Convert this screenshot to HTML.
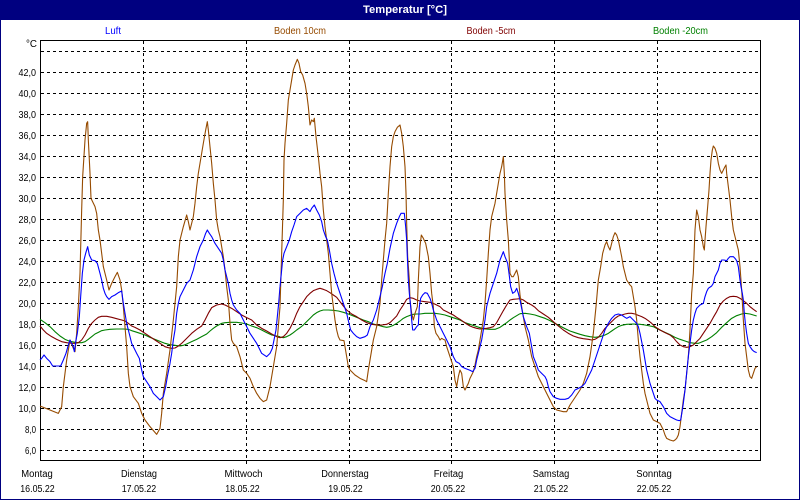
<!DOCTYPE html>
<html><head><meta charset="utf-8"><style>
html,body{margin:0;padding:0;background:#fff;}
svg{display:block;}
text{font-family:"Liberation Sans",Arial,sans-serif;}
</style></head><body>
<svg width="800" height="500" viewBox="0 0 800 500" xmlns="http://www.w3.org/2000/svg">
<rect x="0" y="0" width="800" height="500" fill="#fff"/>
<rect x="0" y="0" width="800" height="20" fill="#000080"/>
<rect x="0.5" y="0.5" width="799" height="499" fill="none" stroke="#000080" stroke-width="1" shape-rendering="crispEdges"/>
<text x="363" y="13" font-size="11" font-weight="bold" fill="#fff" textLength="84" lengthAdjust="spacingAndGlyphs">Temperatur [°C]</text>

<!-- legend -->
<text x="105" y="34" font-size="10" fill="#0000ff" textLength="16" lengthAdjust="spacingAndGlyphs">Luft</text>
<text x="274" y="34" font-size="10" fill="#964B00" textLength="52" lengthAdjust="spacingAndGlyphs">Boden 10cm</text>
<text x="466.5" y="34" font-size="10" fill="#800000" textLength="49" lengthAdjust="spacingAndGlyphs">Boden -5cm</text>
<text x="653" y="34" font-size="10" fill="#008000" textLength="55" lengthAdjust="spacingAndGlyphs">Boden -20cm</text>
<text x="26" y="47" font-size="10" fill="#000" textLength="11" lengthAdjust="spacingAndGlyphs">°C</text>

<!-- grid -->
<g stroke="#000" stroke-width="1" stroke-dasharray="3,3" shape-rendering="crispEdges" fill="none">
<path d="M41 51.5H760M41 72.5H760M41 93.5H760M41 114.5H760M41 135.5H760M41 156.5H760M41 177.5H760M41 198.5H760M41 219.5H760M41 240.5H760M41 261.5H760M41 282.5H760M41 303.5H760M41 324.5H760M41 345.5H760M41 366.5H760M41 387.5H760M41 408.5H760M41 429.5H760M41 450.5H760"/>
<path d="M143.5 41V464M246.5 41V464M349.5 41V464M451.5 41V464M554.5 41V464M657.5 41V464"/>
</g>
<rect x="40.5" y="40.5" width="720" height="420" fill="none" stroke="#000" stroke-width="1" shape-rendering="crispEdges"/>

<!-- y labels -->
<g font-size="10" fill="#000" text-anchor="end">
<text x="36" y="76" textLength="17.5" lengthAdjust="spacingAndGlyphs">42,0</text>
<text x="36" y="97" textLength="17.5" lengthAdjust="spacingAndGlyphs">40,0</text>
<text x="36" y="118" textLength="17.5" lengthAdjust="spacingAndGlyphs">38,0</text>
<text x="36" y="139" textLength="17.5" lengthAdjust="spacingAndGlyphs">36,0</text>
<text x="36" y="160" textLength="17.5" lengthAdjust="spacingAndGlyphs">34,0</text>
<text x="36" y="181" textLength="17.5" lengthAdjust="spacingAndGlyphs">32,0</text>
<text x="36" y="202" textLength="17.5" lengthAdjust="spacingAndGlyphs">30,0</text>
<text x="36" y="223" textLength="17.5" lengthAdjust="spacingAndGlyphs">28,0</text>
<text x="36" y="244" textLength="17.5" lengthAdjust="spacingAndGlyphs">26,0</text>
<text x="36" y="265" textLength="17.5" lengthAdjust="spacingAndGlyphs">24,0</text>
<text x="36" y="286" textLength="17.5" lengthAdjust="spacingAndGlyphs">22,0</text>
<text x="36" y="307" textLength="17.5" lengthAdjust="spacingAndGlyphs">20,0</text>
<text x="36" y="328" textLength="17.5" lengthAdjust="spacingAndGlyphs">18,0</text>
<text x="36" y="349" textLength="17.5" lengthAdjust="spacingAndGlyphs">16,0</text>
<text x="36" y="370" textLength="17.5" lengthAdjust="spacingAndGlyphs">14,0</text>
<text x="36" y="391" textLength="17.5" lengthAdjust="spacingAndGlyphs">12,0</text>
<text x="36" y="412" textLength="17.5" lengthAdjust="spacingAndGlyphs">10,0</text>
<text x="36" y="433" textLength="11" lengthAdjust="spacingAndGlyphs">8,0</text>
<text x="36" y="454" textLength="11" lengthAdjust="spacingAndGlyphs">6,0</text>
</g>

<!-- x labels -->
<g font-size="10" fill="#000" text-anchor="middle">
<text x="37" y="477" textLength="31.5" lengthAdjust="spacingAndGlyphs">Montag</text>
<text x="139" y="477" textLength="36" lengthAdjust="spacingAndGlyphs">Dienstag</text>
<text x="243.5" y="477" textLength="38" lengthAdjust="spacingAndGlyphs">Mittwoch</text>
<text x="345" y="477" textLength="47.5" lengthAdjust="spacingAndGlyphs">Donnerstag</text>
<text x="448.5" y="477" textLength="29.5" lengthAdjust="spacingAndGlyphs">Freitag</text>
<text x="551" y="477" textLength="36.5" lengthAdjust="spacingAndGlyphs">Samstag</text>
<text x="654" y="477" textLength="35.5" lengthAdjust="spacingAndGlyphs">Sonntag</text>
<text x="37.5" y="492" textLength="34.5" lengthAdjust="spacingAndGlyphs">16.05.22</text>
<text x="139" y="492" textLength="34.5" lengthAdjust="spacingAndGlyphs">17.05.22</text>
<text x="242.5" y="492" textLength="34.5" lengthAdjust="spacingAndGlyphs">18.05.22</text>
<text x="345.5" y="492" textLength="34.5" lengthAdjust="spacingAndGlyphs">19.05.22</text>
<text x="448" y="492" textLength="34.5" lengthAdjust="spacingAndGlyphs">20.05.22</text>
<text x="551" y="492" textLength="34.5" lengthAdjust="spacingAndGlyphs">21.05.22</text>
<text x="654" y="492" textLength="34.5" lengthAdjust="spacingAndGlyphs">22.05.22</text>
</g>

<!-- data: segment 1 (x 40-280) -->
<g transform="translate(40,40) scale(0.333333)" fill="none" stroke-width="1.1" stroke-linejoin="round">
<polyline vector-effect="non-scaling-stroke" stroke="#008000" points="0,838 15,848 30,860 45,875 60,888 75,898 90,904 105,907 115,908 125,908 135,905 145,898 155,890 165,882 175,877 185,872 195,870 210,868 230,867 250,867 265,868 275,872 285,875 300,880 315,885 330,892 345,898 360,904 375,910 390,914 405,916 420,918 430,916 440,912 455,905 470,898 485,890 500,882 510,873 520,865 530,858 545,850 555,848 570,847 590,847 605,849 620,852 635,858 650,863 665,870 680,878 695,885 710,888 720,890"/>
<polyline vector-effect="non-scaling-stroke" stroke="#800000" points="0,858 10,870 20,880 35,890 50,898 65,905 80,908 95,910 105,910 115,908 125,900 135,885 145,865 155,850 165,840 175,832 185,829 200,829 215,832 230,836 245,840 255,843 265,850 275,858 285,862 300,870 315,880 330,890 345,900 360,910 375,920 385,923 395,925 405,924 415,918 425,910 440,895 455,880 470,868 485,858 495,840 505,820 515,803 530,795 545,792 555,795 565,800 575,805 590,815 605,825 620,833 635,840 650,855 665,865 680,873 695,882 710,890 720,893"/>
<polyline vector-effect="non-scaling-stroke" stroke="#964B00" points="0,1098 55,1120 65,1100 70,1040 80,960 90,900 100,925 105,935 110,880 115,800 120,700 125,510 128,410 135,300 140,250 143,245 145,300 150,400 153,475 165,500 170,520 175,570 180,600 190,680 200,720 207,750 215,730 225,710 232,697 240,720 245,750 250,800 255,860 260,920 265,1000 270,1040 280,1070 295,1090 305,1120 315,1140 330,1160 350,1183 360,1165 365,1120 370,1060 380,1000 390,930 400,840 410,740 415,650 420,600 430,560 440,525 445,545 450,570 455,550 460,530 465,490 470,440 475,400 480,370 485,340 490,310 497,270 502,245 505,270 510,320 515,370 520,430 525,480 530,540 535,570 540,590 545,620 550,650 555,690 560,740 565,780 570,850 575,900 580,910 590,920 600,950 610,990 620,1000 630,1015 640,1040 650,1060 660,1075 670,1085 680,1080 690,1040 700,980 710,920 720,800"/>
<polyline vector-effect="non-scaling-stroke" stroke="#0000ff" points="0,960 5,955 12,945 20,955 30,965 38,978 50,978 62,978 70,960 78,940 85,915 90,900 95,910 100,920 103,935 108,900 112,880 118,830 122,770 127,700 132,660 137,640 143,620 148,645 155,660 165,662 172,670 180,700 185,720 190,745 195,760 200,770 207,778 215,770 225,765 235,758 245,753 250,790 255,820 260,850 265,870 270,890 275,910 280,920 285,930 290,940 298,955 305,990 310,1010 320,1025 330,1040 340,1060 350,1070 360,1080 370,1070 377,1040 382,1010 390,970 395,940 400,900 405,870 410,820 415,790 420,770 430,750 440,730 450,720 455,705 460,690 465,670 470,650 480,620 490,600 497,580 502,570 508,580 515,590 525,610 535,625 545,640 550,660 555,690 560,710 565,730 570,760 575,780 580,795 590,810 600,820 610,840 620,860 630,880 640,895 650,910 655,920 665,940 680,950 690,940 697,925 702,900 708,870 712,830 716,790 720,740"/>
</g>

<!-- data: segment 2 (x 280-520) -->
<g transform="translate(280,40) scale(0.333333)" fill="none" stroke-width="1.1" stroke-linejoin="round">
<polyline vector-effect="non-scaling-stroke" stroke="#008000" points="0,891 10,893 20,890 30,885 40,878 50,870 60,863 70,855 80,845 90,835 100,825 110,818 120,813 130,810 145,810 160,811 175,813 190,817 205,822 220,828 235,834 250,840 265,845 280,852 295,856 310,860 320,862 330,860 340,856 350,850 360,843 370,835 380,830 390,826 400,823 410,822 420,822 435,820 450,820 465,820 480,822 495,825 510,830 525,835 540,840 555,848 570,853 585,858 600,863 615,867 630,868 645,868 660,862 670,855 680,848 690,840 700,833 710,827 720,821"/>
<polyline vector-effect="non-scaling-stroke" stroke="#800000" points="0,893 10,890 20,880 30,865 40,845 50,820 60,800 70,785 80,770 90,760 100,752 110,748 120,745 130,748 140,752 150,758 160,765 170,772 180,785 190,798 200,810 215,822 230,830 245,840 260,848 275,853 290,855 305,855 320,853 330,848 340,838 350,828 360,810 370,795 380,778 390,773 400,775 410,780 420,783 435,785 450,787 460,790 470,795 480,800 490,810 500,815 510,820 520,825 530,832 540,838 550,845 560,852 570,858 580,862 590,865 600,867 610,866 620,865 630,863 640,860 650,848 660,830 670,812 680,795 690,780 700,778 710,777 720,776"/>
<polyline vector-effect="non-scaling-stroke" stroke="#964B00" points="0,800 5,640 10,480 12,360 15,310 20,250 25,180 30,150 35,120 40,90 45,75 52,58 57,70 62,95 68,105 75,130 80,160 85,200 90,255 95,240 100,245 103,235 108,290 115,350 120,400 125,440 130,510 135,560 140,600 145,640 150,700 155,760 160,800 165,840 170,870 175,890 180,900 192,902 200,950 205,980 210,990 215,995 225,1005 240,1015 255,1022 260,1025 265,990 270,960 275,930 280,900 290,860 300,790 305,720 310,660 315,600 320,550 325,460 330,380 335,320 340,290 345,275 352,262 360,255 365,280 370,320 375,380 378,460 380,550 383,650 388,720 390,780 395,820 400,840 405,820 412,800 415,720 418,660 420,620 424,585 430,595 437,610 445,650 450,700 455,760 460,800 463,860 468,880 475,890 480,900 485,895 490,898 495,900 500,920 505,935 510,950 515,965 520,980 525,1020 530,1040 535,1010 540,990 545,1000 550,1040 555,1050 560,1040 565,1030 570,1015 575,1005 580,995 585,975 590,950 595,930 600,900 605,870 610,840 615,790 620,720 625,640 630,570 635,530 640,510 645,490 650,460 655,430 660,400 665,380 670,350 673,400 675,460 680,540 685,600 690,700 695,710 700,710 705,700 710,690 715,710 720,765"/>
<polyline vector-effect="non-scaling-stroke" stroke="#0000ff" points="0,740 2,720 8,660 12,640 20,620 28,600 35,575 42,555 50,530 60,520 70,510 80,505 90,515 95,505 103,495 110,510 118,525 125,545 130,570 137,590 142,600 148,630 155,670 162,700 170,730 180,760 190,790 200,820 207,850 212,870 220,880 230,890 240,895 255,890 262,885 270,860 280,840 290,810 300,770 307,740 315,700 322,670 330,625 340,580 350,550 358,530 363,520 373,520 377,560 380,600 382,650 385,720 388,760 392,800 395,840 398,870 403,870 410,860 415,855 418,800 422,775 428,765 435,758 442,760 450,775 455,790 460,810 465,825 470,840 475,850 480,860 485,870 490,880 495,890 500,900 505,910 510,920 515,935 520,950 528,965 538,970 545,980 555,985 568,990 578,995 585,985 590,960 595,940 600,920 605,900 610,870 615,840 620,800 625,780 630,760 640,730 650,700 660,660 670,635 675,650 683,670 687,700 692,740 698,760 705,755 710,745 715,760 720,780"/>
</g>

<!-- data: segment 3 (x 520-760) -->
<g transform="translate(520,40) scale(0.333333)" fill="none" stroke-width="1.1" stroke-linejoin="round">
<polyline vector-effect="non-scaling-stroke" stroke="#008000" points="0,821 15,820 30,822 45,825 60,830 75,835 90,842 105,850 120,858 135,866 150,873 165,878 180,883 195,887 210,890 225,892 240,890 255,885 265,880 275,873 285,866 295,860 305,856 320,853 340,852 360,853 375,855 390,858 400,860 410,865 420,870 435,877 450,884 465,892 480,898 495,903 510,908 525,910 535,910 545,906 560,900 575,890 590,878 605,862 620,848 635,835 650,827 665,822 675,820 690,822 700,825 710,828"/>
<polyline vector-effect="non-scaling-stroke" stroke="#800000" points="0,776 10,780 20,787 35,795 45,802 55,812 70,822 85,832 100,845 115,858 130,870 145,880 160,888 175,893 190,896 205,898 215,900 225,898 235,892 245,880 255,865 265,855 275,845 285,835 295,828 305,825 315,822 325,820 335,820 345,822 355,826 365,830 375,835 385,842 395,850 405,860 420,870 435,878 450,885 460,893 470,905 480,915 490,920 500,922 510,920 520,915 530,905 540,895 550,880 560,865 570,850 580,832 590,815 600,795 610,783 620,775 630,770 640,769 650,770 660,775 670,782 680,790 690,800 700,808 710,815"/>
<polyline vector-effect="non-scaling-stroke" stroke="#964B00" points="0,765 5,800 15,860 25,900 35,950 45,980 55,1010 70,1040 80,1060 90,1080 100,1100 110,1110 130,1115 140,1115 150,1095 160,1080 170,1065 180,1050 190,1030 200,1000 210,950 220,880 228,800 235,720 242,680 248,640 255,615 260,605 265,620 270,630 275,610 280,590 285,578 290,585 295,600 300,625 305,650 310,680 320,720 330,735 335,740 340,770 345,800 350,840 355,900 360,950 365,990 370,1030 375,1060 380,1080 385,1100 390,1120 400,1140 410,1145 420,1150 425,1160 430,1170 435,1185 440,1195 450,1200 460,1203 465,1200 470,1195 475,1185 480,1160 485,1120 490,1080 495,1050 500,1000 505,950 510,870 515,760 520,700 525,570 530,510 535,530 540,570 545,590 550,620 553,630 555,600 558,560 563,500 567,450 570,400 573,360 577,330 580,318 585,325 590,340 595,370 600,390 605,400 610,390 615,380 618,375 620,400 625,440 630,480 635,530 640,570 645,590 650,610 655,630 660,680 665,750 670,840 675,910 680,950 685,990 690,1010 695,1015 700,1000 705,985 710,980"/>
<polyline vector-effect="non-scaling-stroke" stroke="#0000ff" points="0,780 10,830 20,860 28,880 35,920 40,950 48,970 55,990 65,1000 75,1010 80,1020 85,1040 90,1055 100,1070 110,1075 120,1078 135,1078 145,1075 155,1065 165,1050 175,1045 185,1040 195,1030 205,1010 215,990 225,960 235,930 245,900 255,870 265,850 275,835 285,825 295,822 305,825 315,832 320,835 330,830 340,840 350,850 355,860 360,880 365,905 370,930 375,960 380,990 385,1010 390,1030 395,1045 400,1060 405,1075 410,1080 420,1085 430,1100 435,1110 440,1120 450,1130 460,1135 470,1140 478,1142 482,1140 487,1110 490,1090 495,1050 500,1000 505,950 510,910 515,870 520,840 525,820 530,805 540,795 550,790 555,770 560,755 565,745 575,738 580,730 585,710 590,700 595,690 600,670 605,660 612,660 620,662 625,655 630,650 640,650 645,655 650,662 655,680 660,720 663,740 667,760 670,780 673,820 676,850 680,880 685,910 690,920 697,930 703,935 710,938"/>
</g>
</svg>
</body></html>
